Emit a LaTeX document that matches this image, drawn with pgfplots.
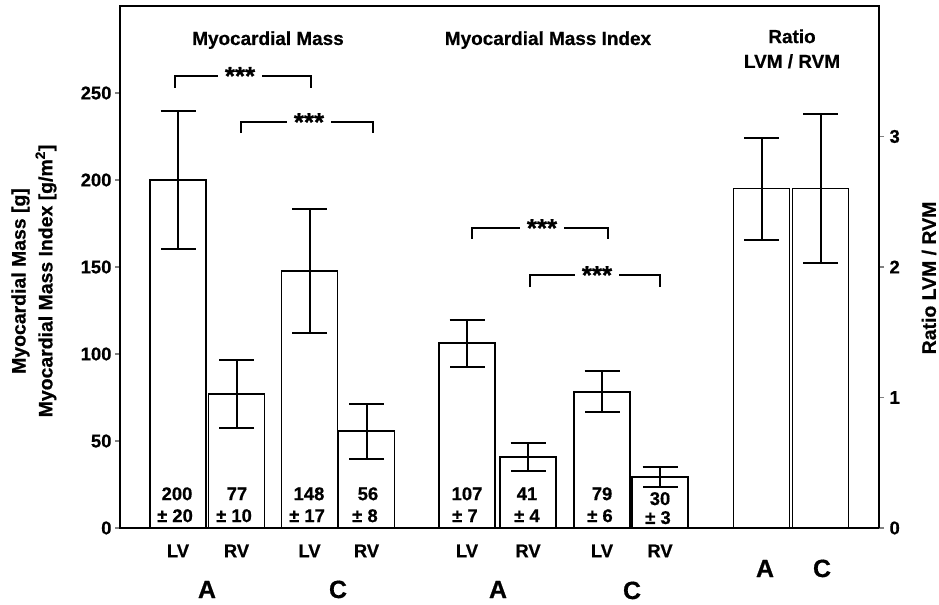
\documentclass[border=0pt]{standalone}
\usepackage{pgfplots}
\pgfplotsset{compat=1.18}
\usepackage{pgfplotstable}
\usepackage{fontspec}
\setmainfont{Liberation Sans}[BoldFeatures={FakeBold=0.6}]
\newcommand{\vf}{\fontsize{18.5}{20}\selectfont\bfseries}
\newcommand{\tf}{\fontsize{19}{20}\selectfont\bfseries}
\newcommand{\bigf}{\fontsize{25}{28}\selectfont\bfseries}
\newcommand{\starf}{\fontsize{26}{26}\selectfont\bfseries}

\pgfplotstableread{
x y e
178 200 39.4
236.5 77 19.5
309.5 147.7 35.5
366.5 55.7 15.8
467 106.3 13.5
528 40.8 7.8
602 78.2 11.8
660 29.3 5.7
}\massdata
\pgfplotstableread{
x y e
761.5 2.6 0.39
820.5 2.6 0.57
}\ratiodata

\begin{document}
\begin{tikzpicture}
\useasboundingbox (0,0) rectangle (939bp,605bp);
\begin{axis}[
  at={(120bp,77bp)}, anchor=south west,
  width=759bp, height=522bp, scale only axis,
  xmin=120, xmax=879, ymin=0, ymax=300,
  axis line style={line width=1.6bp},
  ytick={0,50,100,150,200,250}, ytick pos=left,
  tick align=outside, major tick length=5bp,
  y tick style={line width=1.6bp},
  xtick={178,236.5,309.5,366.5,467,528,602,660},
  xticklabels={LV,RV,LV,RV,LV,RV,LV,RV},
  x tick style={draw=none},
  xtick pos=bottom,
  /pgf/number format/assume math mode=true,
  yticklabel style={font=\fontsize{18.5}{20}\selectfont\bfseries},
  xticklabel style={font=\vf, yshift=-8bp},
  clip=false,
]
\addplot[ybar, bar width=56, bar shift=0pt, fill=white, draw=black, line width=1.6bp,
  error bars/.cd, y dir=both, y explicit,
  error bar style={line width=2bp},
  error mark options={rotate=90, line width=2bp, mark size=17.5bp}]
  table[x=x, y=y, y error=e] {\massdata};

% significance brackets
\draw[line width=1.4bp] (axis cs:175,252.9) -- (axis cs:175,259.8) -- (axis cs:311,259.8) -- (axis cs:311,252.9);
\node[fill=white, inner xsep=7bp, font=\starf] at (axis cs:240,259.8) {\raisebox{-0.22em}{***}};
\draw[line width=1.4bp] (axis cs:241,227.0) -- (axis cs:241,233.3) -- (axis cs:373,233.3) -- (axis cs:373,227.0);
\node[fill=white, inner xsep=7bp, font=\starf] at (axis cs:309,233.3) {\raisebox{-0.22em}{***}};
\draw[line width=1.4bp] (axis cs:472,166.1) -- (axis cs:472,172.4) -- (axis cs:608,172.4) -- (axis cs:608,166.1);
\node[fill=white, inner xsep=7bp, font=\starf] at (axis cs:542,172.4) {\raisebox{-0.22em}{***}};
\draw[line width=1.4bp] (axis cs:530,138.5) -- (axis cs:530,145.4) -- (axis cs:660,145.4) -- (axis cs:660,138.5);
\node[fill=white, inner xsep=7bp, font=\starf] at (axis cs:597,145.4) {\raisebox{-0.22em}{***}};

% titles
\node[anchor=base, font=\tf] at (axis cs:268,277.6) {Myocardial Mass};
\node[anchor=base, font=\tf] at (axis cs:548,277.6) {Myocardial Mass Index};
\node[anchor=base, font=\tf] at (axis cs:792,278.7) {Ratio};
\node[anchor=base, font=\tf] at (axis cs:792,264.4) {LVM / RVM};

% values inside bars
\node[anchor=base, font=\vf] at (axis cs:177,16) {200};
\node[anchor=base, font=\vf] at (axis cs:175,3.4) {± 20};
\node[anchor=base, font=\vf] at (axis cs:237,16) {77};
\node[anchor=base, font=\vf] at (axis cs:234,3.4) {± 10};
\node[anchor=base, font=\vf] at (axis cs:309,16) {148};
\node[anchor=base, font=\vf] at (axis cs:307,3.4) {± 17};
\node[anchor=base, font=\vf] at (axis cs:368,16) {56};
\node[anchor=base, font=\vf] at (axis cs:365,3.4) {± 8};
\node[anchor=base, font=\vf] at (axis cs:467,16) {107};
\node[anchor=base, font=\vf] at (axis cs:465,3.4) {± 7};
\node[anchor=base, font=\vf] at (axis cs:527,16) {41};
\node[anchor=base, font=\vf] at (axis cs:527,3.4) {± 4};
\node[anchor=base, font=\vf] at (axis cs:602,16) {79};
\node[anchor=base, font=\vf] at (axis cs:600,3.4) {± 6};
\node[anchor=base, font=\vf] at (axis cs:660,13.2) {30};
\node[anchor=base, font=\vf] at (axis cs:658,2.3) {± 3};
\node[anchor=base, font=\vf] at (axis cs:762,15.5) {2.6};
\node[anchor=base, font=\vf] at (axis cs:761,2.9) {± 0.2};
\node[anchor=base, font=\vf] at (axis cs:821,15.5) {2.6};
\node[anchor=base, font=\vf] at (axis cs:820,2.9) {± 0.3};

% group labels
\node[anchor=base, font=\bigf] at (axis cs:207,0) [yshift=-70bp] {A};
\node[anchor=base, font=\bigf] at (axis cs:338,0) [yshift=-70bp] {C};
\node[anchor=base, font=\bigf] at (axis cs:498,0) [yshift=-70bp] {A};
\node[anchor=base, font=\bigf] at (axis cs:632,0) [yshift=-71bp] {C};
\node[anchor=base, font=\bigf] at (axis cs:765,0) [yshift=-49bp] {A};
\node[anchor=base, font=\bigf] at (axis cs:822,0) [yshift=-49bp] {C};
\end{axis}

\begin{axis}[
  at={(120bp,77bp)}, anchor=south west,
  width=759bp, height=522bp, scale only axis,
  xmin=120, xmax=879, ymin=0, ymax=4,
  hide x axis,
  axis y line*=right,
  axis line style={line width=1.6bp},
  ytick={0,1,2,3},
  tick align=outside, major tick length=5bp,
  y tick style={line width=1.6bp},
  /pgf/number format/assume math mode=true,
  yticklabel style={font=\fontsize{18.5}{20}\selectfont\bfseries, xshift=2bp},
  clip=false,
]
\addplot[ybar, bar width=56, bar shift=0pt, fill=white, draw=black, line width=1.6bp,
  error bars/.cd, y dir=both, y explicit,
  error bar style={line width=2bp},
  error mark options={rotate=90, line width=2bp, mark size=17.5bp}]
  table[x=x, y=y, y error=e] {\ratiodata};
\end{axis}

\node[rotate=90, align=center, font=\fontsize{19.5}{27}\selectfont\bfseries] at (34bp,324bp)
  {Myocardial Mass [g]\\Myocardial Mass Index [g/m\textsuperscript{2}]};
\node[rotate=90, font=\fontsize{19.5}{20}\selectfont\bfseries] at (929bp,327bp) {Ratio LVM / RVM};
\end{tikzpicture}
\end{document}
